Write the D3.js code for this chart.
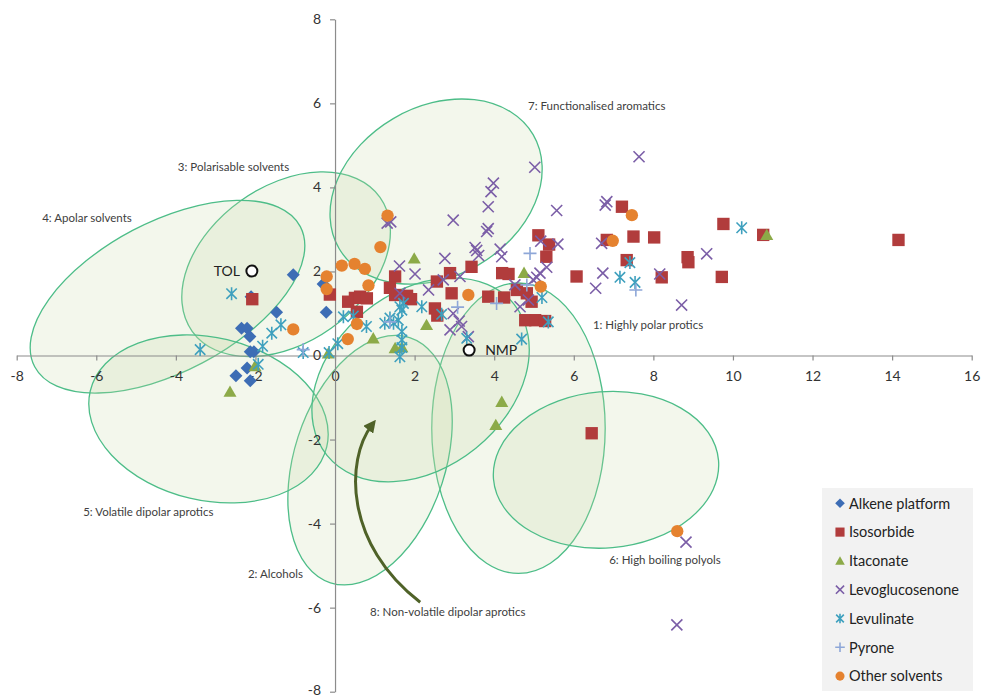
<!DOCTYPE html>
<html><head><meta charset="utf-8">
<script src="https://cdn.jsdelivr.net/npm/d3@7"></script>
<style>body{margin:0;background:#fff;} text{font-family:Lato,"Open Sans",sans-serif;}</style>
</head><body>
<svg id="c" width="982" height="697"></svg>
<script>
// ---------- data ----------
const xTicks = [-8,-6,-4,-2,0,2,4,6,8,10,12,14,16];
const yTicks = [-8,-6,-4,-2,0,2,4,6,8];
const seriesNames = ["Alkene platform","Isosorbide","Itaconate","Levoglucosenone","Levulinate","Pyrone","Other solvents"];

const alkene = [[-1.05,1.92],[-1.47,1.03],[-0.22,1.03],[-2.35,0.65],[-2.21,0.65],[-2.14,0.45],[-2.13,0.09],[-2.04,0.09],[-2.21,-0.30],[-2.49,-0.48],[-2.13,-0.60],[-2.11,1.40],[-0.30,1.70]];
const isosorbide = [[-2.08,1.34],[-0.13,1.45],[0.33,1.28],[0.50,1.37],[0.63,1.40],[0.80,1.36],[0.55,1.04],
 [1.51,1.88],[1.38,1.61],[1.51,1.44],[1.81,1.42],[1.91,1.34],[2.56,1.76],[2.89,1.96],[2.93,1.48],[3.43,2.11],[2.51,1.12],[2.57,0.95],
 [3.85,1.40],[4.20,1.96],[4.36,1.94],[4.25,1.38],[4.57,1.56],[4.82,1.48],[4.94,1.28],[5.11,2.86],[5.38,2.64],[5.31,2.35],
 [4.78,0.84],[5.03,0.84],[5.28,0.82],[6.07,1.88],[6.83,2.75],[7.21,3.54],[7.50,2.83],[7.33,2.27],[8.02,2.81],
 [9.76,3.13],[10.76,2.87],[14.16,2.75],[8.86,2.34],[8.88,2.22],[8.21,1.86],[9.72,1.87],[6.45,-1.85]];
const itaconate = [[-2.64,-0.86],[-2.01,-0.25],[-0.17,0.05],[0.96,0.41],[1.51,0.18],[1.68,0.20],[1.99,2.31],[2.30,0.73],[4.75,1.97],[4.19,-1.10],[4.04,-1.65],[10.85,2.87]];
const levoglucosenone = [[5.02,4.48],[7.64,4.73],[3.98,4.10],[3.92,3.90],[3.85,3.54],[2.97,3.22],[1.31,3.15],[1.40,3.18],[5.57,3.45],[6.83,3.66],[6.79,3.58],
 [3.85,3.02],[3.81,2.95],[3.52,2.57],[3.56,2.50],[3.61,2.38],[4.15,2.53],[4.19,2.35],[2.76,2.31],[1.62,2.13],[2.01,1.94],[5.17,2.72],[5.60,2.65],[6.70,2.67],
 [9.34,2.42],[5.15,1.96],[5.32,2.10],[5.07,1.86],[4.98,1.80],[6.73,1.96],[6.55,1.60],[8.16,1.94],[8.71,1.20],[2.35,1.56],[2.72,1.80],[3.14,1.88],[1.63,1.48],
 [4.52,1.68],[4.65,1.16],[4.86,1.32],[2.97,1.00],[3.12,0.82],[2.89,0.61],[3.18,0.69],[3.35,0.45],[8.82,-4.44],[8.59,-6.41]];
const levulinate = [[-2.60,1.47],[-3.39,0.14],[-1.93,-0.21],[-1.82,0.22],[-1.59,0.53],[-1.36,0.73],[-0.80,0.07],[-0.15,0.07],[0.07,0.28],[0.21,0.92],[0.46,0.94],
 [0.79,0.69],[1.25,0.77],[1.38,0.89],[1.47,0.77],[1.63,1.16],[1.72,1.24],[1.68,1.08],[2.18,1.16],[2.68,0.98],[1.59,0.84],[1.68,0.57],[1.68,0.37],[1.68,0.19],
 [1.63,-0.03],[3.31,0.41],[5.20,1.38],[5.36,0.80],[4.69,0.39],[7.41,2.21],[7.16,1.86],[7.54,1.74],[10.22,3.04]];
const pyrone = [[-0.80,0.14],[1.38,0.80],[3.08,1.15],[4.06,1.24],[4.82,1.68],[4.90,2.43],[7.56,1.56]];
const otherSolvents = [[1.32,3.33],[1.14,2.58],[0.17,2.14],[0.49,2.18],[0.75,2.06],[-0.21,1.88],[-0.21,1.58],[0.84,1.67],[0.55,0.75],[0.32,0.39],
 [-1.05,0.62],[3.35,1.44],[5.17,1.64],[7.46,3.34],[6.98,2.73],[8.60,-4.18]];

const refNames = ["TOL","NMP"];
const refPoints = [[-2.09,2.01],[3.37,0.13]];

// solvent-class ellipses (data units)
const groupNames = ["1: Highly polar protics","2: Alcohols","3: Polarisable solvents","4: Apolar solvents","5: Volatile dipolar aprotics","6: High boiling polyols","7: Functionalised aromatics","8: Non-volatile dipolar aprotics"];
const groupCx    = [4.61, 0.88, -1.23, -4.21, -3.18, 6.81, 2.54, 2.15];
const groupCy    = [-1.73, -2.49, 2.17, 1.40, -1.51, -2.72, 3.90, -0.58];
const groupRx    = [2.12, 3.15, 2.82, 3.67, 2.97, 2.76, 2.75, 2.94];
const groupRy    = [3.55, 1.85, 1.91, 1.83, 1.99, 1.91, 2.07, 2.15];
const groupAngle = [0, 72.1, 35.5, 27.8, -13.3, 4.8, 30.4, 38.9];
const labelX     = [6.48, -2.19, -3.95, -7.36, -6.33, 6.89, 4.85, 0.88];
const labelY     = [0.73, -5.20, 4.49, 3.27, -3.72, -4.87, 5.94, -6.11];
const arrowPts   = [[2.14,-5.87],[0.25,-4.51],[0.25,-2.49],[0.93,-1.65]];

// ---------- chart ----------
const svg = d3.select("#c");
const x = d3.scaleLinear().domain([-8,16]).range([16.7,971.7]);
const y = d3.scaleLinear().domain([-8,8]).range([691.7,19.3]);
const k = ((x(1)-x(0)) + (y(0)-y(1)))/2;

const defs = svg.append("defs");
defs.append("marker").attr("id","ah").attr("viewBox","0 0 10 10").attr("refX",5).attr("refY",5)
  .attr("markerWidth",4.2).attr("markerHeight",4.2).attr("orient","auto")
  .append("path").attr("d","M0,0 L10,5 L0,10 Z").attr("fill","#4F6228");

// ellipses
const eg = svg.append("g");
groupNames.forEach((n,i)=>{
  const cx = x(groupCx[i]), cy = y(groupCy[i]);
  eg.append("ellipse").attr("cx",cx).attr("cy",cy)
    .attr("rx",groupRx[i]*k).attr("ry",groupRy[i]*k)
    .attr("transform",`rotate(${-groupAngle[i]},${cx},${cy})`)
    .attr("fill","rgba(200,220,170,0.22)").attr("stroke","#4DBD88").attr("stroke-width",1.3);
});

// axes
const axCol = "#8C8C8C";
const gx = svg.append("g").attr("transform",`translate(0,${y(0)})`)
  .call(d3.axisBottom(x).tickValues(xTicks).tickSize(5).tickSizeOuter(0).tickPadding(11).tickFormat(d=>String(d)));
const gy = svg.append("g").attr("transform",`translate(${x(0)},0)`)
  .call(d3.axisLeft(y).tickValues(yTicks).tickSize(5).tickSizeOuter(0).tickPadding(9).tickFormat(d=>String(d)));
[gx,gy].forEach(g=>{
  g.select(".domain").attr("stroke",axCol).attr("stroke-width",1.2);
  g.selectAll(".tick line").attr("stroke",axCol).attr("stroke-width",1.2);
  g.selectAll(".tick text").attr("fill","#333").style("font-size","14px").style("font-family","Lato, sans-serif");
});
gy.selectAll(".tick text").filter(d=>d===-8).attr("dy","0.2em");

// arrow
const ap = d3.path();
ap.moveTo(x(arrowPts[0][0]),y(arrowPts[0][1]));
ap.bezierCurveTo(x(arrowPts[1][0]),y(arrowPts[1][1]),x(arrowPts[2][0]),y(arrowPts[2][1]),x(arrowPts[3][0]),y(arrowPts[3][1]));
svg.append("path").attr("d",ap.toString()).attr("fill","none").attr("stroke","#4F6228").attr("stroke-width",3).attr("marker-end","url(#ah)");

// markers
const colors = ["#3D6DB5","#B13C3C","#8CAA48","#7B5EA7","#3EA0BE","#8EA7D8","#E5822F"];
function drawMarker(g, type, cx, cy, s, col){
  const t = `translate(${cx},${cy})`;
  if(type===0){ g.append("path").attr("transform",t).attr("d",`M0,${-s}L${s},0L0,${s}L${-s},0Z`).attr("fill",col); }
  else if(type===1){ g.append("rect").attr("x",cx-s*0.95).attr("y",cy-s*0.95).attr("width",s*1.9).attr("height",s*1.9).attr("fill",col); }
  else if(type===2){ g.append("path").attr("transform",t).attr("d",`M0,${-s*0.95}L${s},${s*0.8}L${-s},${s*0.8}Z`).attr("fill",col); }
  else if(type===3){ const d=s*0.85; g.append("path").attr("transform",t).attr("d",`M${-d},${-d}L${d},${d}M${-d},${d}L${d},${-d}`).attr("stroke",col).attr("stroke-width",1.6).attr("fill","none"); }
  else if(type===4){ const d=s*0.8; g.append("path").attr("transform",t).attr("d",`M${-d},${-d}L${d},${d}M${-d},${d}L${d},${-d}M0,${-s}L0,${s}`).attr("stroke",col).attr("stroke-width",1.6).attr("fill","none"); }
  else if(type===5){ g.append("path").attr("transform",t).attr("d",`M${-s},0L${s},0M0,${-s}L0,${s}`).attr("stroke",col).attr("stroke-width",1.6).attr("fill","none"); }
  else { g.append("circle").attr("cx",cx).attr("cy",cy).attr("r",s*0.95).attr("fill",col); }
}
const allSeries = [alkene,isosorbide,itaconate,levoglucosenone,levulinate,pyrone,otherSolvents];
const pg = svg.append("g");
allSeries.forEach((ser,si)=>{
  ser.forEach(p=>drawMarker(pg, si, x(p[0]), y(p[1]), 6.5, colors[si]));
});

// reference solvents
refPoints.forEach((p,i)=>{
  svg.append("circle").attr("cx",x(p[0])).attr("cy",y(p[1])).attr("r",5.5).attr("fill","#fff").attr("stroke","#111").attr("stroke-width",2);
  const left = i===0;
  svg.append("text").attr("x",x(p[0])+(left?-12:16)).attr("y",y(p[1])).attr("dy","0.36em")
    .attr("text-anchor",left?"end":"start").style("font-size","14px").attr("fill","#222").text(refNames[i]);
});

// group labels
groupNames.forEach((n,i)=>{
  svg.append("text").attr("x",x(labelX[i])).attr("y",y(labelY[i])).attr("dy","0.35em")
    .style("font-size","11.5px").attr("fill","#404040").text(n);
});

// legend
const lg = svg.append("g");
lg.append("rect").attr("x",822).attr("y",488).attr("width",151).attr("height",203).attr("fill","#F2F2F2");
seriesNames.forEach((n,i)=>{
  const cy = 503.3 + i*28.8;
  drawMarker(lg, i, 840, cy, 4.8, colors[i]);
  lg.append("text").attr("x",849).attr("y",cy).attr("dy","0.36em").style("font-size","14.5px").attr("fill","#222").text(n);
});
</script>
</body></html>
